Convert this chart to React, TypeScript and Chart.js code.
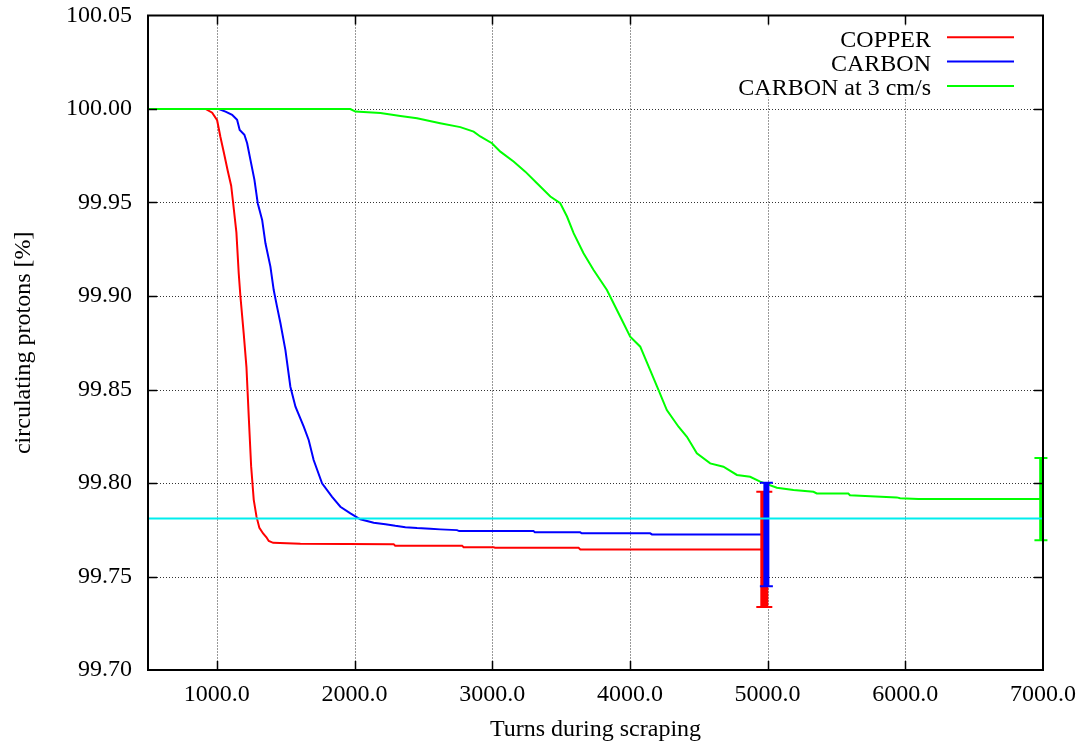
import React, { useEffect, useRef } from 'react';
import { Chart, registerables } from 'chart.js';

Chart.register(...registerables);

// ---------- data ----------
const copperX = [500, 918, 966, 1002, 1026, 1050, 1079, 1104, 1118, 1142, 1159, 1171, 1195, 1215, 1232, 1249, 1268, 1288, 1309, 1336, 1360, 1377, 1409, 1607, 2284, 2295, 2781, 2792, 3010, 3020, 3627, 3640, 4960];
const copperY = [100.0, 100.0, 99.998, 99.994, 99.985, 99.977, 99.967, 99.959, 99.95, 99.934, 99.912, 99.9, 99.88, 99.862, 99.835, 99.809, 99.791, 99.782, 99.776, 99.773, 99.771, 99.769, 99.768, 99.7675, 99.7673, 99.7665, 99.7665, 99.7657, 99.7657, 99.7654, 99.7654, 99.7645, 99.7645];

const carbonX = [500, 1014, 1063, 1111, 1147, 1166, 1200, 1220, 1244, 1273, 1297, 1329, 1353, 1389, 1413, 1437, 1462, 1498, 1534, 1571, 1631, 1667, 1703, 1764, 1837, 1897, 1970, 2042, 2139, 2224, 2296, 2369, 2454, 2550, 2623, 2744, 2760, 3300, 3310, 3639, 3650, 4147, 4160, 4985];
const carbonY = [100.0, 100.0, 99.9986, 99.9969, 99.9942, 99.9888, 99.9862, 99.9817, 99.9728, 99.9621, 99.9496, 99.9407, 99.9282, 99.9157, 99.9032, 99.8943, 99.8854, 99.8711, 99.8515, 99.8408, 99.8301, 99.823, 99.8123, 99.7998, 99.7926, 99.7873, 99.7838, 99.7806, 99.7787, 99.778, 99.7771, 99.7764, 99.7759, 99.7755, 99.7752, 99.7748, 99.7743, 99.7743, 99.7736, 99.7736, 99.7731, 99.7731, 99.7725, 99.7725];

const carbon3X = [500, 1970, 2006, 2188, 2333, 2454, 2622, 2768, 2865, 2913, 2998, 3059, 3155, 3240, 3325, 3422, 3494, 3543, 3591, 3663, 3736, 3833, 3930, 4002, 4075, 4147, 4208, 4268, 4353, 4414, 4486, 4583, 4679, 4777, 4873, 4946, 5067, 5188, 5333, 5357, 5586, 5598, 5708, 5938, 5962, 6095, 6985];
const carbon3Y = [100.0, 100.0, 99.9986, 99.9978, 99.9963, 99.9951, 99.9924, 99.9903, 99.9879, 99.9853, 99.9817, 99.9772, 99.9719, 99.9665, 99.9603, 99.9532, 99.9496, 99.9425, 99.9336, 99.9229, 99.9139, 99.9032, 99.8889, 99.8782, 99.8729, 99.8604, 99.8497, 99.839, 99.8301, 99.8247, 99.8159, 99.8105, 99.8087, 99.8043, 99.8033, 99.8007, 99.7975, 99.7962, 99.7953, 99.7944, 99.7944, 99.7935, 99.793, 99.7923, 99.7918, 99.7914, 99.7914];

const refX = [500, 7000];
const refY = [99.781, 99.781];

// error bars (one per series): position, centre, half-range
const errX = [4976, 4991, 6985];
const errY = [99.7645, 99.7725, 99.7914];
const errD = [0.0308, 0.0277, 0.022];

const seriesNames = ['COPPER', 'CARBON', 'CARBON at 3 cm/s'];
const xTicks = [1000, 2000, 3000, 4000, 5000, 6000, 7000];
const yTicks = [99.7, 99.75, 99.8, 99.85, 99.9, 99.95, 100.0, 100.05];
const xTickLabels = ['1000.0', '2000.0', '3000.0', '4000.0', '5000.0', '6000.0', '7000.0'];
const yTickLabels = ['99.70', '99.75', '99.80', '99.85', '99.90', '99.95', '100.00', '100.05'];
const xTitle = 'Turns during scraping';
const yTitle = 'circulating protons [%]';

// ---------- styles ----------
const COLORS = ['#ff0000', '#0000ff', '#00ff00'];
const REF_COLOR = '#00eeee';
const FAMILY = '"Liberation Serif", "Times New Roman", serif';
const FONT = '24px ' + FAMILY;
const ERR_BAR_W = [8, 6, 3.5];
const ERR_CAP_W = [16, 13, 13];

const pts = (xs: number[], ys: number[]) => xs.map((v, i) => ({ x: v, y: ys[i] }));

const gnuplotPlugin = {
  id: 'gnuplotLook',
  beforeDatasetsDraw(chart: any) {
    const { ctx, chartArea, scales } = chart;
    const { left, right, top, bottom } = chartArea;
    const x = scales.x;
    const y = scales.y;
    ctx.save();
    ctx.strokeStyle = 'rgba(0,0,0,0.8)';
    ctx.lineWidth = 1;
    ctx.setLineDash([1, 2]);
    xTicks.forEach((v) => {
      const px = Math.round(x.getPixelForValue(v)) + 0.5;
      if (px >= right - 2 || px <= left + 2) return;
      ctx.beginPath();
      ctx.moveTo(px, top);
      ctx.lineTo(px, bottom);
      ctx.stroke();
    });
    yTicks.forEach((v) => {
      const py = Math.round(y.getPixelForValue(v)) + 0.5;
      if (py <= top + 2 || py >= bottom - 2) return;
      ctx.beginPath();
      ctx.moveTo(left, py);
      ctx.lineTo(right, py);
      ctx.stroke();
    });
    ctx.setLineDash([]);
    // key area is opaque
    ctx.fillStyle = '#ffffff';
    ctx.fillRect(730, top + 10, right - 731, 72);
    ctx.restore();
  },
  beforeDatasetDraw(chart: any, args: any) {
    if (args.index !== 0) return;
    const { ctx, scales } = chart;
    const x = scales.x;
    const y = scales.y;
    ctx.save();
    errX.forEach((xv, i) => {
      const px = x.getPixelForValue(xv);
      const p1 = y.getPixelForValue(errY[i] + errD[i]);
      const p2 = y.getPixelForValue(errY[i] - errD[i]);
      ctx.strokeStyle = COLORS[i];
      ctx.lineWidth = ERR_BAR_W[i];
      ctx.beginPath();
      ctx.moveTo(px, p1);
      ctx.lineTo(px, p2);
      ctx.stroke();
      ctx.lineWidth = 2;
      ctx.beginPath();
      ctx.moveTo(px - ERR_CAP_W[i] / 2, p1);
      ctx.lineTo(px + ERR_CAP_W[i] / 2, p1);
      ctx.moveTo(px - ERR_CAP_W[i] / 2, p2);
      ctx.lineTo(px + ERR_CAP_W[i] / 2, p2);
      ctx.stroke();
    });
    ctx.restore();
  },
  afterDatasetsDraw(chart: any) {
    const { ctx, chartArea, scales } = chart;
    const { left, right, top, bottom } = chartArea;
    const x = scales.x;
    const y = scales.y;
    ctx.save();
    // inward ticks, mirrored
    ctx.strokeStyle = '#000';
    ctx.lineWidth = 1.5;
    const TL = 9;
    xTicks.forEach((v) => {
      const px = Math.round(x.getPixelForValue(v)) + 0.5;
      if (px >= right - 2) return;
      ctx.beginPath();
      ctx.moveTo(px, bottom);
      ctx.lineTo(px, bottom - TL);
      ctx.moveTo(px, top);
      ctx.lineTo(px, top + TL);
      ctx.stroke();
    });
    yTicks.forEach((v) => {
      const py = Math.round(y.getPixelForValue(v)) + 0.5;
      if (py <= top + 2 || py >= bottom - 2) return;
      ctx.beginPath();
      ctx.moveTo(left, py);
      ctx.lineTo(left + TL, py);
      ctx.moveTo(right, py);
      ctx.lineTo(right - TL, py);
      ctx.stroke();
    });
    // border
    ctx.lineWidth = 2;
    ctx.strokeRect(left, top, right - left, bottom - top);

    // tick labels
    ctx.font = FONT;
    ctx.fillStyle = '#000';
    ctx.textBaseline = 'middle';
    ctx.textAlign = 'center';
    xTicks.forEach((v, i) => {
      ctx.fillText(xTickLabels[i], x.getPixelForValue(v), bottom + 25);
    });
    ctx.textAlign = 'right';
    yTicks.forEach((v, i) => {
      ctx.fillText(yTickLabels[i], left - 16, y.getPixelForValue(v));
    });

    // key
    ctx.textAlign = 'right';
    ctx.textBaseline = 'alphabetic';
    seriesNames.forEach((name, i) => {
      const ly = 37.3 + i * 24.3;
      ctx.fillStyle = '#000';
      ctx.fillText(name, 931, ly + 9.5);
      ctx.strokeStyle = COLORS[i];
      ctx.lineWidth = 2;
      ctx.beginPath();
      ctx.moveTo(947, ly);
      ctx.lineTo(1014, ly);
      ctx.stroke();
    });

    // axis titles
    ctx.fillStyle = '#000';
    ctx.textAlign = 'center';
    ctx.textBaseline = 'middle';
    ctx.fillText(xTitle, (left + right) / 2, 730);
    ctx.translate(24, (top + bottom) / 2);
    ctx.rotate(-Math.PI / 2);
    ctx.fillText(yTitle, 0, 0);
    ctx.restore();
  },
};

export default function App() {
  const ref = useRef<HTMLCanvasElement>(null);
  useEffect(() => {
    document.body.style.margin = '0';
    const canvas = ref.current!;
    const chart = new Chart(canvas, {
      type: 'line',
      data: {
        datasets: [
          { label: 'ref', data: pts(refX, refY), borderColor: REF_COLOR, borderWidth: 2, order: 0 },
          { label: seriesNames[2], data: pts(carbon3X, carbon3Y), borderColor: COLORS[2], borderWidth: 2, order: 1 },
          { label: seriesNames[1], data: pts(carbonX, carbonY), borderColor: COLORS[1], borderWidth: 2, order: 2 },
          { label: seriesNames[0], data: pts(copperX, copperY), borderColor: COLORS[0], borderWidth: 2, order: 3 },
        ],
      },
      options: {
        responsive: false,
        maintainAspectRatio: false,
        animation: false,
        layout: { padding: { top: 15.5, right: 37, left: 0, bottom: 0 } },
        elements: { point: { radius: 0 }, line: { tension: 0, fill: false } },
        plugins: { legend: { display: false }, tooltip: { enabled: false } },
        scales: {
          x: {
            type: 'linear',
            min: 500,
            max: 7000,
            afterBuildTicks: (s: any) => { s.ticks = xTicks.map((v) => ({ value: v })); },
            afterFit: (s: any) => { s.height = 75; },
            grid: { display: false, drawTicks: false },
            border: { display: false },
            ticks: { display: false },
          },
          y: {
            type: 'linear',
            min: 99.7,
            max: 100.05,
            afterBuildTicks: (s: any) => { s.ticks = yTicks.map((v) => ({ value: v })); },
            afterFit: (s: any) => { s.width = 148; },
            grid: { display: false, drawTicks: false },
            border: { display: false },
            ticks: { display: false },
          },
        },
      },
      plugins: [gnuplotPlugin],
    } as any);
    return () => chart.destroy();
  }, []);
  return (
    <div style={{ position: 'absolute', left: 0, top: 0, width: 1080, height: 745, background: '#fff' }}>
      <canvas ref={ref} width={1080} height={745} style={{ display: 'block' }} />
    </div>
  );
}
